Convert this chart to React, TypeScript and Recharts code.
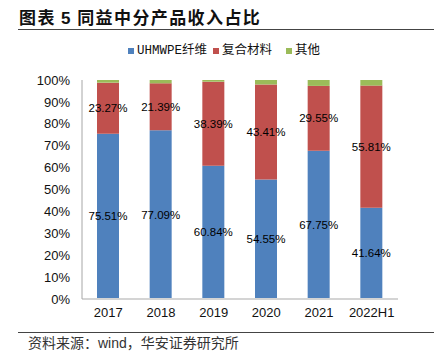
import React from 'react';
import { BarChart, Bar, XAxis, YAxis, LabelList } from 'recharts';

const categories = ['2017', '2018', '2019', '2020', '2021', '2022H1'];
const uhmwpe = [75.51, 77.09, 60.84, 54.55, 67.75, 41.64];
const composite = [23.27, 21.39, 38.39, 43.41, 29.55, 55.81];
const others = [1.22, 1.52, 0.77, 2.04, 2.7, 2.55];
const yTicks = [0, 10, 20, 30, 40, 50, 60, 70, 80, 90, 100];

const seriesNames = ['UHMWPE纤维', '复合材料', '其他'];
const colors = ['#4F81BD', '#C0504D', '#9BBB59'];

const data = categories.map((name, i) => ({
  name,
  uhmwpe: uhmwpe[i],
  composite: composite[i],
  others: others[i],
}));

const pct = (v: any) => `${Number(v).toFixed(2)}%`;
const labelStyle = { fill: '#000', fontSize: 11.5, fontFamily: '"Liberation Sans", Arial, sans-serif' };
const cjk = '"Noto Sans CJK SC", sans-serif';

export default function App() {
  const legendItems = [
    { sq: 128, tx: 137, name: seriesNames[0], color: colors[0] },
    { sq: 213, tx: 222, name: seriesNames[1], color: colors[1] },
    { sq: 286, tx: 295, name: seriesNames[2], color: colors[2] },
  ];
  return (
    <div style={{ position: 'absolute', left: 0, top: 0, width: 434, height: 358, background: '#fff', overflow: 'hidden' }}>
      <div
        style={{
          position: 'absolute', left: 19, top: 6, fontFamily: cjk, fontWeight: 700,
          fontSize: 17, letterSpacing: 1.4, color: '#111', lineHeight: '22px', whiteSpace: 'nowrap',
        }}
      >
        图表 <span style={{ fontFamily: '"Liberation Sans", Arial, sans-serif' }}>5</span> 同益中分产品收入占比
      </div>
      <div style={{ position: 'absolute', left: 18, top: 29, width: 416, height: 1, background: '#444' }} />
      {legendItems.map((it) => (
        <React.Fragment key={it.name}>
          <div style={{ position: 'absolute', left: it.sq, top: 48, width: 6, height: 6, background: it.color }} />
          <div
            style={{
              position: 'absolute', left: it.tx, top: 43, fontSize: 12.5, lineHeight: '16px',
              fontFamily: `"Liberation Mono", ${cjk}`, color: '#111', whiteSpace: 'nowrap',
            }}
          >
            {it.name}
          </div>
        </React.Fragment>
      ))}
      <div style={{ position: 'absolute', left: 0, top: 0 }}>
        <BarChart
          width={434}
          height={358}
          data={data}
          margin={{ top: 80, right: 36, bottom: 29, left: 22 }}
          barSize={22}
        >
          <XAxis
            dataKey="name"
            height={30}
            tickSize={0}
            tickMargin={9}
            axisLine={{ stroke: '#D4D4D4', strokeWidth: 2 }}
            tick={{ fill: '#111', fontSize: 13, fontFamily: '"Liberation Sans", Arial, sans-serif' }}
          />
          <YAxis
            width={60}
            domain={[0, 100]}
            ticks={yTicks}
            interval={0}
            tickSize={0}
            tickMargin={12}
            axisLine={{ stroke: '#A6A6A6', strokeWidth: 1 }}
            tickFormatter={(v: number) => `${v}%`}
            tick={{ fill: '#111', fontSize: 13, fontFamily: '"Liberation Sans", Arial, sans-serif' }}
          />
          <Bar dataKey="uhmwpe" stackId="s" fill={colors[0]} isAnimationActive={false}>
            <LabelList dataKey="uhmwpe" position="center" formatter={pct} style={labelStyle} />
          </Bar>
          <Bar dataKey="composite" stackId="s" fill={colors[1]} isAnimationActive={false}>
            <LabelList dataKey="composite" position="center" formatter={pct} style={labelStyle} />
          </Bar>
          <Bar dataKey="others" stackId="s" fill={colors[2]} isAnimationActive={false} />
        </BarChart>
      </div>
      <div style={{ position: 'absolute', left: 18, top: 332, width: 416, height: 1, background: '#444' }} />
      <div
        style={{
          position: 'absolute', left: 28, top: 334, fontSize: 14, lineHeight: '18px', color: '#333',
          fontFamily: `"Liberation Sans", ${cjk}`, whiteSpace: 'nowrap',
        }}
      >
        资料来源：wind，华安证券研究所
      </div>
    </div>
  );
}
